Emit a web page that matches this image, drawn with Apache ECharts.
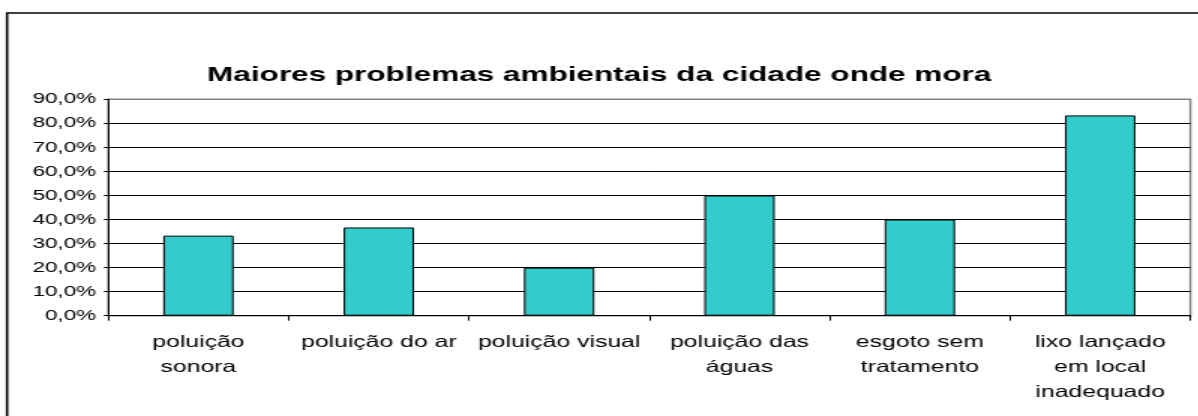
<!DOCTYPE html>
<html>
<head>
<meta charset="utf-8">
<script src="https://cdn.jsdelivr.net/npm/echarts@6/dist/echarts.min.js"></script>
<style>
  html, body { margin: 0; padding: 0; background: #fff; overflow: hidden; }
  /* o grafico original esta esticado na horizontal, entao desenha estreito e estica */
  #chart { width: 799px; height: 416px; transform: scaleX(1.5); transform-origin: 0 0; }
</style>
</head>
<body>
<div id="chart"></div>
<script>
let title = 'Maiores problemas ambientais da cidade onde mora'
let categories = [
  'poluição\nsonora',
  'poluição do ar',
  'poluição visual',
  'poluição das\náguas',
  'esgoto sem\ntratamento',
  'lixo lançado\nem local\ninadequado'
]
let values = [33.3, 36.7, 20.0, 50.0, 40.0, 83.3]
let yTicks = [0, 10, 20, 30, 40, 50, 60, 70, 80, 90]

let font = "'Liberation Sans', Arial, sans-serif"

// linha de 90% fica cinza igual a borda da area de plotagem
let splitColors = yTicks.map((t, i) => i === yTicks.length - 1 ? '#808080' : '#000')

let chart = echarts.init(document.getElementById('chart'), null, { renderer: 'canvas' })

chart.setOption({
  animation: false,
  backgroundColor: '#fff',
  title: {
    text: title,
    left: 'center',
    top: 60,
    textStyle: { fontFamily: font, fontSize: 21, fontWeight: 'bold', color: '#000' }
  },
  graphic: [{
    type: 'rect',
    shape: { x: 4.7, y: 13, width: 900, height: 500 },
    style: { fill: 'none', stroke: '#000', lineWidth: 1.6 },
    silent: true
  }],
  grid: {
    left: 72.2,
    right: 5.4,
    top: 99.3,
    bottom: 100.3,
    show: true,
    borderColor: '#808080',
    borderWidth: 1.4,
    backgroundColor: 'transparent'
  },
  xAxis: {
    type: 'category',
    data: categories,
    boundaryGap: true,
    axisLine: { lineStyle: { color: '#000', width: 1 } },
    axisTick: { show: true, length: 5, lineStyle: { color: '#000' } },
    axisLabel: {
      interval: 0,
      margin: 14,
      fontFamily: font,
      fontSize: 16.5,
      lineHeight: 25,
      color: '#000',
      align: 'center'
    },
    splitLine: { show: false }
  },
  yAxis: {
    type: 'value',
    min: 0,
    max: 90,
    interval: 10,
    axisLine: { show: true, lineStyle: { color: '#000', width: 1 } },
    axisTick: { show: true, length: 3, lineStyle: { color: '#000' } },
    axisLabel: {
      margin: 8,
      fontFamily: font,
      fontSize: 15,
      color: '#000',
      formatter: v => v.toFixed(1).replace('.', ',') + '%'
    },
    splitLine: { show: true, lineStyle: { color: splitColors, width: 1 } }
  },
  series: [{
    type: 'bar',
    data: values,
    barWidth: '39%',
    itemStyle: { color: '#33CCCC', borderColor: '#000', borderWidth: 1 }
  }]
})
</script>
</body>
</html>
